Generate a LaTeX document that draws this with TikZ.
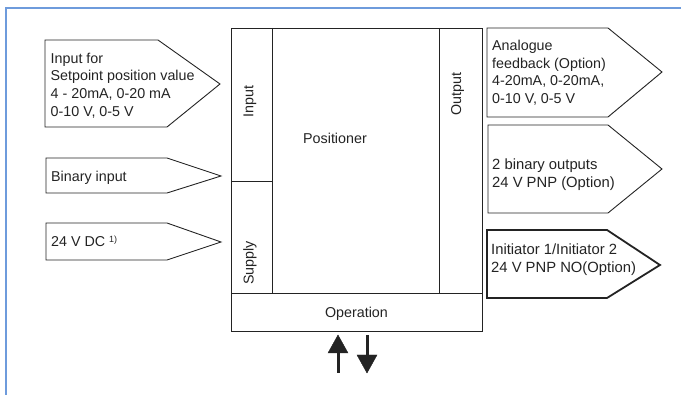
\documentclass[tikz,border=0pt]{standalone}
\usepackage{fontspec}
\setmainfont{Liberation Sans}
\usetikzlibrary{calc}
\definecolor{framebl}{RGB}{110,155,220}
\definecolor{ink}{RGB}{35,35,35}
\tikzset{
  box/.style={draw=ink, line width=0.9pt},
  boldbox/.style={draw=ink, line width=1.8pt},
  lbl/.style={inner sep=0pt, anchor=north west, align=left, text=ink,
    font=\fontsize{14.3}{17.7}\selectfont},
  clbl/.style={inner sep=0pt, text=ink, font=\fontsize{14.3}{17.7}\selectfont},
  shaft/.style={draw=ink, line width=3pt},
  head/.style={fill=ink, draw=ink, line width=0.4pt, line join=miter}
}
\begin{document}
\begin{tikzpicture}[x=1pt,y=-1pt]
\useasboundingbox (0,0) rectangle (681,395);
% frame
\draw[framebl, line width=1.6pt] (6,395) -- (6,8) -- (681,8);

% left pentagons
\draw[box] (45,40) -- (158,40) -- (220,84) -- (167,127) -- (45,127) -- cycle;
\node[lbl] (inp) at (50.5,52.5) {Input for\\Setpoint position value\\4 - 20mA, 0-20 mA\\0-10 V, 0-5 V};

\draw[box] (46,158) -- (167,158) -- (221,176) -- (167,193) -- (46,193) -- cycle;
\node[lbl] (bin) at (51,170.5) {Binary input};

\draw[box] (46,223) -- (167,223) -- (221,242) -- (167,260) -- (46,260) -- cycle;
\node[lbl] (dc) at (51,235.8) {24 V DC \raisebox{0.5ex}{\fontsize{9}{10}\selectfont 1)}};

% central block
\draw[box] (231,28) rectangle (482,331);
\draw[box] (272,28) -- (272,293);
\draw[box] (439,28) -- (439,293);
\draw[box] (231,181) -- (272,181);
\draw[box] (231,293) -- (482,293);
\node[clbl, rotate=90] (in) at (250,101.5) {Input};
\node[clbl, rotate=90] (sup) at (250,263) {Supply};
\node[clbl, rotate=90] (out) at (457.5,94) {Output};
\node[lbl] (pos) at (303,133.3) {Positioner};
\node[clbl, anchor=base] (op) at (356.5,317.3) {Operation};

% arrows
\coordinate (u1) at (338,373);
\coordinate (u2) at (338,335);
\coordinate (d1) at (367,335);
\coordinate (d2) at (367,373);
\draw[shaft] (u1) -- ($(u2)+(0,16)$);
\path[head] ($(u2)+(-10,18)$) -- (u2) -- ($(u2)+(10,18)$) -- cycle;
\draw[shaft] (d1) -- ($(d2)+(0,-16)$);
\path[head] ($(d2)+(-10,-18)$) -- (d2) -- ($(d2)+(10,-18)$) -- cycle;

% right pentagons
\draw[box] (487,28) -- (608,28) -- (662,72) -- (608,117) -- (487,117) -- cycle;
\node[lbl] (ana) at (492,40) {Analogue\\feedback (Option)\\4-20mA, 0-20mA,\\0-10 V, 0-5 V};

\draw[box] (488,125) -- (608,125) -- (662,169) -- (608,213) -- (488,213) -- cycle;
\node[lbl, font=\fontsize{14.8}{18.4}\selectfont] (bo) at (492,158.3) {2 binary outputs\\24 V PNP (Option)};

\draw[boldbox] (487,230) -- (607,230) -- (660,265) -- (607,298) -- (487,298) -- cycle;
\node[lbl, font=\fontsize{14.8}{18.4}\selectfont] (ini) at (491,243.3) {Initiator 1/Initiator 2\\24 V PNP NO(Option)};
\end{tikzpicture}
\end{document}
